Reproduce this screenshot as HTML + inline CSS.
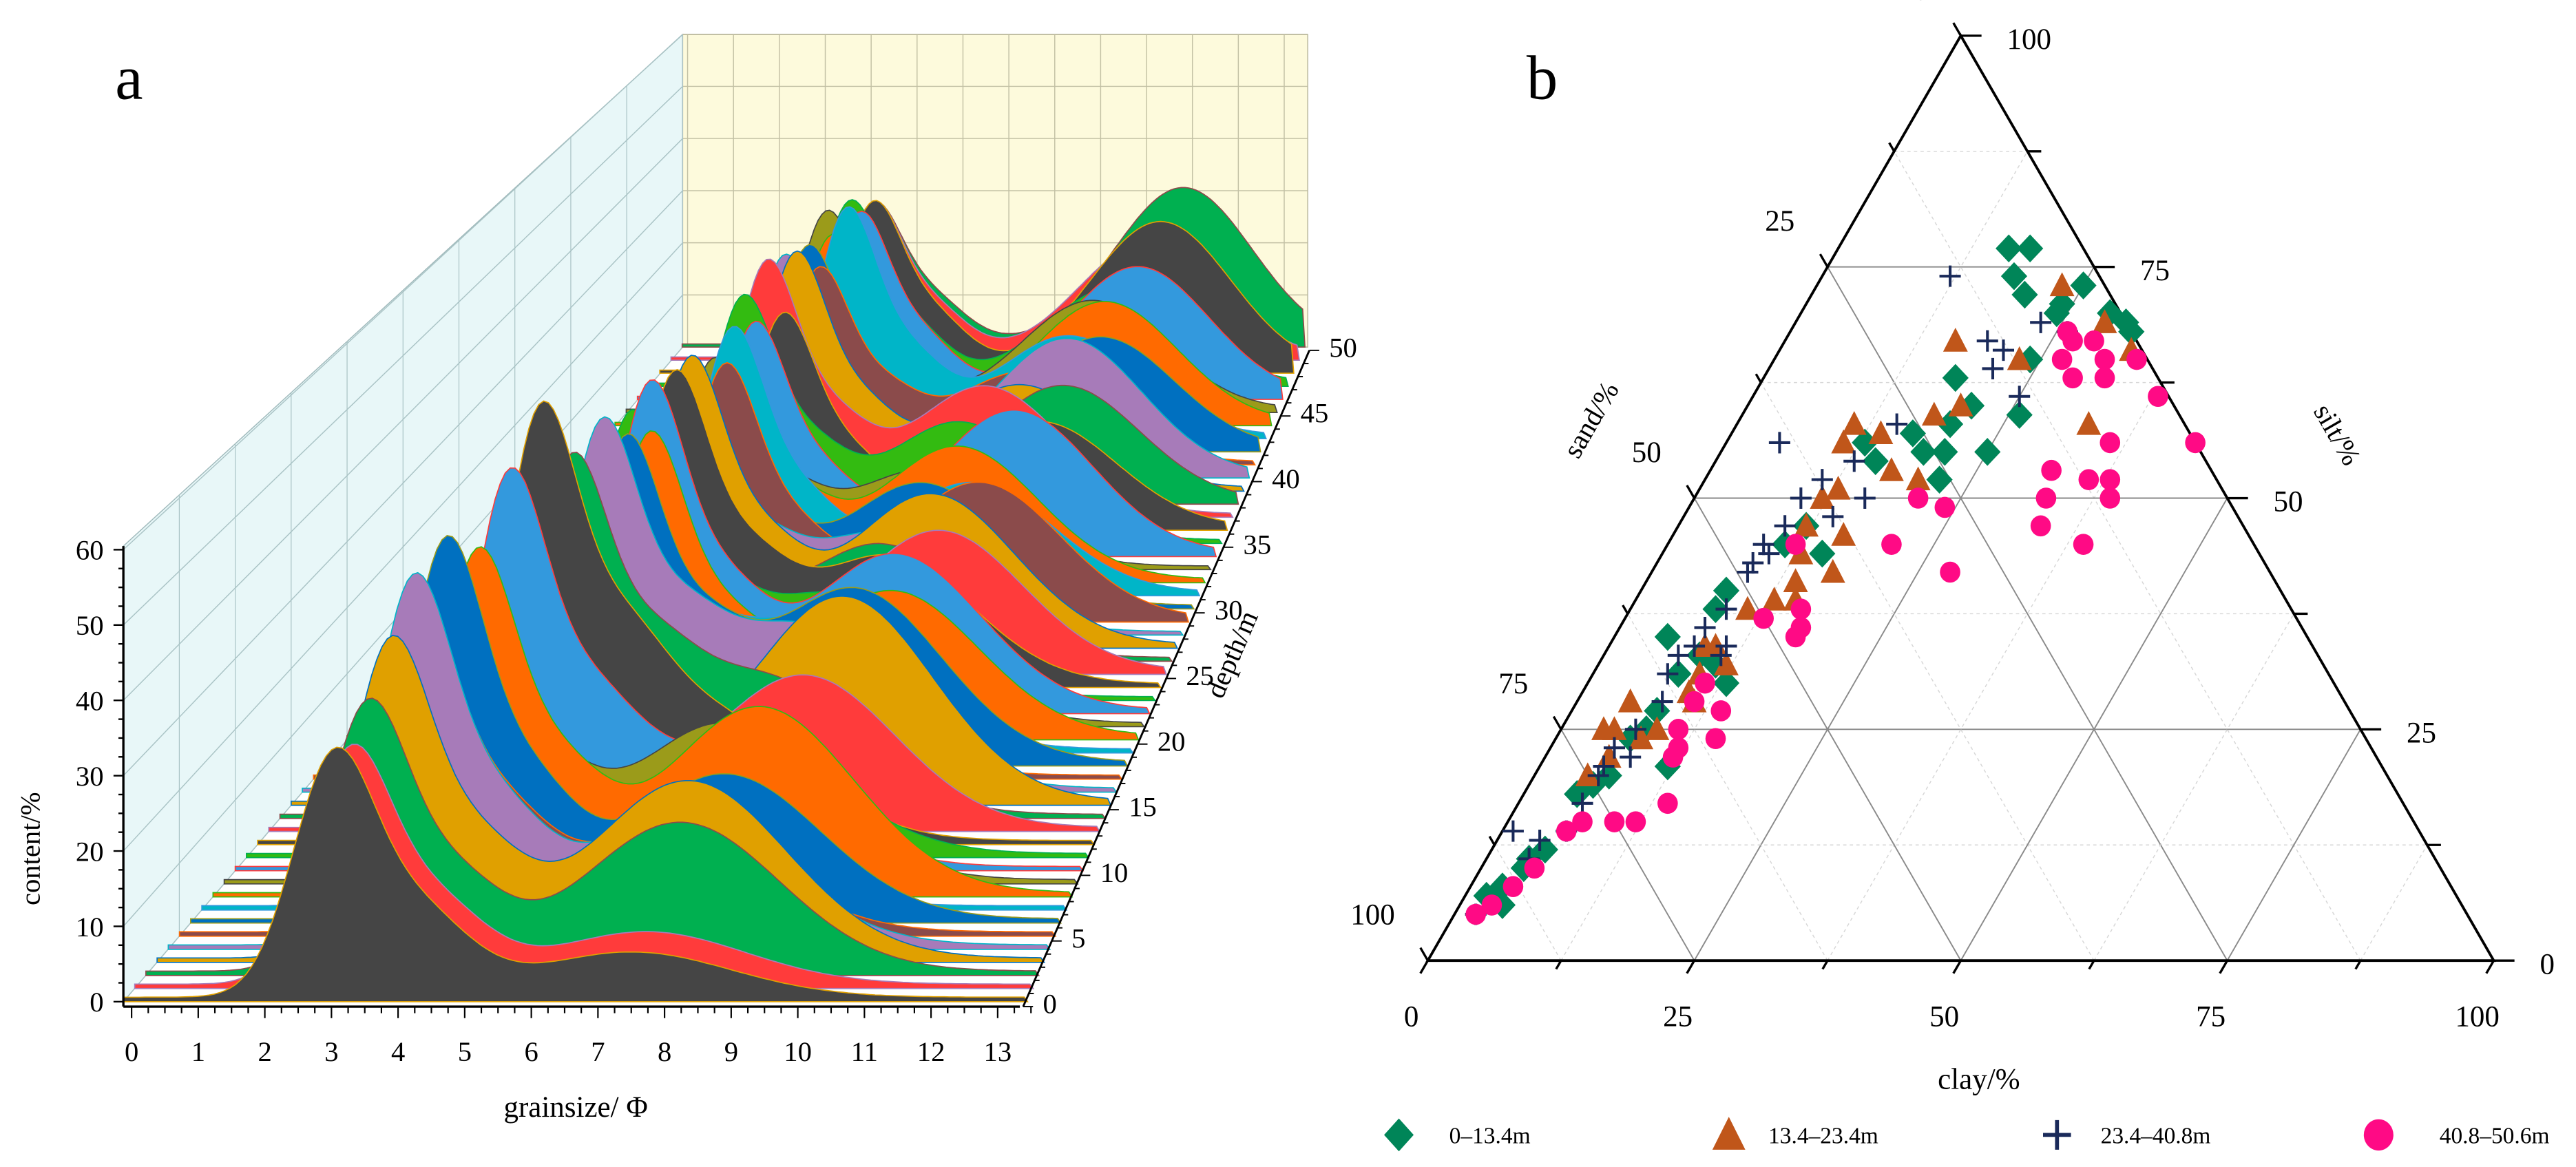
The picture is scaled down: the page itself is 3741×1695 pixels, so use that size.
<!DOCTYPE html>
<html><head><meta charset="utf-8"><style>
html,body{margin:0;padding:0;background:#fff;}
svg{display:block;font-family:"Liberation Serif",serif;}
</style></head><body>
<svg id="fig" xmlns="http://www.w3.org/2000/svg" width="3741" height="1695" viewBox="0 0 1566 709.5">
<rect x="0" y="0" width="1566" height="709.5" fill="#fff"/>
<g id="panelA">
  <polygon points="75,609 75,332 415,21 415,211" fill="#e8f7f8" stroke="#9fb9bb" stroke-width="0.6"/>
  <rect x="415" y="21" width="380" height="190" fill="#fdfadc" stroke="#b5b39a" stroke-width="0.6"/>
  <g id="wallGrid"></g>
  <g id="slices"></g>
  <g id="axesA"></g>
  <text x="70" y="60" font-size="38">a</text>
  <text transform="translate(24,516) rotate(-90)" font-size="17" text-anchor="middle">content/%</text>
  <text x="350" y="679" font-size="18" text-anchor="middle">grainsize/ Φ</text>
  <text transform="translate(754,400) rotate(-66.7)" font-size="17" text-anchor="middle">depth/m</text>
</g>
<g id="panelB">
  <g id="ternGrid"></g>
  <polygon points="868,584 1516,584 1192,21.7" fill="none" stroke="#000" stroke-width="1.6"/>
  <g id="ternTicks"></g>
  <g id="points"></g>
  <text x="928" y="60" font-size="38">b</text>
  <text transform="translate(972,258) rotate(-60)" font-size="17" text-anchor="middle">sand/%</text>
  <text transform="translate(1416,267) rotate(60)" font-size="17" text-anchor="middle">silt/%</text>
  <text x="1203" y="662" font-size="18" text-anchor="middle">clay/%</text>
  <g>
    <g>
      <path d="M850.4,680 L859.4,690 L850.4,700 L841.4,690 Z" fill="#008558"/>
      <text x="881" y="695" font-size="14">0–13.4m</text>
    </g>
    <g>
      <path d="M1051,679 L1061,699 L1041,699 Z" fill="#c0561a"/>
      <text x="1075" y="695" font-size="14">13.4–23.4m</text>
    </g>
    <g>
      <path d="M1242,690 H1259 M1250.5,681 V699" stroke="#1a2a5a" stroke-width="2.4"/>
      <text x="1277" y="695" font-size="14">23.4–40.8m</text>
    </g>
    <g>
      <ellipse cx="1446" cy="690" rx="9" ry="9.5" fill="#ff0a85"/>
      <text x="1483" y="695" font-size="14">40.8–50.6m</text>
    </g>
  </g>
</g>
</svg>
<script>
// ---------- Panel a data ----------
const depths = [0,1,2,3,4,5,6,7,8,9,10,11,12,13,14,15,16,17,18,19,20,21,22,23,24,25,26,27,28,29,30,31,32,33,34,35,36,37,38,39,40,41,42,43,44,45,46,47,48,49,50];
const peak1Pos = [3.0,3.1,3.2,3.4,3.6,3.5,3.8,3.3,4.0,3.6,4.2,3.9,4.4,4.0,4.6,4.2,4.8,4.3,4.9,4.5,5.0,4.4,4.7,4.2,4.8,4.5,4.0,4.6,4.3,4.9,4.1,4.7,4.4,4.0,4.6,4.2,4.8,4.3,4.0,4.5,4.1,4.6,4.2,4.8,4.3,4.0,4.5,4.1,4.4,4.2,4.0];
const peak1Height = [29,28,32,38,44,40,46,35,42,38,48,40,52,36,44,40,46,38,42,36,40,34,44,38,42,38,34,40,32,36,34,38,32,30,34,36,32,38,32,36,34,30,32,36,30,32,30,30,28,26,24];
const peak2Pos = [7.5,7.6,8.0,8.0,7.8,7.5,8.2,7.0,8.5,7.8,7.5,8.0,7.2,8.6,7.8,9.0,8.2,7.5,8.8,8.0,9.2,8.4,9.0,7.8,8.6,9.4,8.2,9.0,8.0,9.6,8.4,9.2,8.8,8.0,9.6,8.4,9.8,8.6,10.0,9.0,9.8,8.8,10.2,9.4,10.0,9.6,10.4,9.8,10.6,10.2,10.8];
const peak2Height = [6,7,20,24,18,14,20,12,26,22,16,14,18,22,20,30,24,18,26,20,22,18,24,16,20,22,18,24,16,22,20,18,22,16,24,20,18,22,20,18,24,16,20,18,22,20,24,18,28,22,30];
const contentTicks = [0,10,20,30,40,50,60];
const grainTicks = [0,1,2,3,4,5,6,7,8,9,10,11,12,13];
const depthTicks = [0,5,10,15,20,25,30,35,40,45,50];
const palette = ['#454545','#ff3b3b','#00b050','#e0a000','#a77bb9','#8b4b4b','#0070c0','#00b5c8','#ff6a00','#9b9b1a','#3399dd','#33bb11'];

const NS = 'http://www.w3.org/2000/svg';
function mk(tag, attrs, parent){ const e=document.createElementNS(NS,tag); for(const k in attrs) e.setAttribute(k,attrs[k]); parent.appendChild(e); return e; }

function proj(g,d,v){
  const t=d/50;
  const xf=80+g*40.5, xb=418+g*27.9;
  const x=xf+(xb-xf)*t;
  const y0=609+(211-609)*t;
  const s=4.58+(3.17-4.58)*t;
  return [x, y0-v*s];
}
const wg=document.getElementById('wallGrid');
contentTicks.forEach(v=>{
  const a=[75,609-v*4.58], b=[415,211-v*3.17];
  const l=mk('line',{x1:a[0],y1:a[1],x2:b[0],y2:b[1],stroke:'#a9c3c5','stroke-width':0.6},wg);
  
  
  const h=mk('line',{x1:415,y1:211-v*3.17,x2:795,y2:211-v*3.17,stroke:'#c2c0a4','stroke-width':0.6},wg);
  
  
});
depthTicks.forEach(d=>{
  const t=d/50, x=75+340*t;
  const yb=609-398*t, yt=332-311*t;
  const l=mk('line',{x1:x,y1:yb,x2:x,y2:yt,stroke:'#a9c3c5','stroke-width':0.5},wg);
  
  
});
for(let g=0; g<=13.5; g+=1){
  const x=418+g*27.9;
  const l=mk('line',{x1:x,y1:21,x2:x,y2:211,stroke:'#c2c0a4','stroke-width':0.6},wg);
  
  
}
const sg=document.getElementById('slices');
for(let i=depths.length-1;i>=0;i--){
  const d=depths[i], p1=peak1Pos[i], h1=peak1Height[i], p2=peak2Pos[i], h2=peak2Height[i];
  let pts=[];
  const b0=proj(-0.12,d,0); pts.push(b0);
  for(let g=-0.12; g<=13.45; g+=0.08){
    const v=h1*Math.exp(-Math.pow((g-p1)/0.6,2)/2)+0.4*h1*Math.exp(-Math.pow((g-p1-1.2)/0.8,2)/2)+h2*Math.exp(-Math.pow((g-p2)/1.5,2)/2)+0.6;
    pts.push(proj(g,d,v));
  }
  pts.push(proj(13.45,d,0));
  const col=palette[i%palette.length];
  const p=mk('polygon',{points:pts.map(q=>q[0].toFixed(1)+','+q[1].toFixed(1)).join(' '),fill:col,stroke:palette[(i+3)%palette.length],'stroke-width':0.7},sg);
  
  
}
const ax=document.getElementById('axesA');
let ln=mk('line',{x1:75,y1:332,x2:75,y2:612,stroke:'#000','stroke-width':1.4},ax);


for(let v=0;v<=60;v+=2.5){
  const y=609-v*4.58, len=(v%10===0)?6:3;
  const t=mk('line',{x1:75-len,y1:y,x2:75,y2:y,stroke:'#000','stroke-width':1},ax);
  
  
}
contentTicks.forEach(v=>{
  const t=mk('text',{x:63,y:609-v*4.58+6,'font-size':17,'text-anchor':'end'},ax);
  t.textContent=v;
  
  
});
ln=mk('line',{x1:75,y1:612,x2:620,y2:612,stroke:'#000','stroke-width':1.4},ax);


for(let g=0; g<=13.5; g+=0.25){
  const x=80+g*40.5, len=(Math.abs(g-Math.round(g))<0.01)?7:4;
  const t=mk('line',{x1:x,y1:612,x2:x,y2:612+len,stroke:'#000','stroke-width':0.9},ax);
  
  
}
grainTicks.forEach(g=>{
  const t=mk('text',{x:80+g*40.5,y:645,'font-size':17,'text-anchor':'middle'},ax);
  t.textContent=g;
  
  
});
ln=mk('line',{x1:622,y1:612,x2:796,y2:213,stroke:'#000','stroke-width':1.2},ax);


for(let d=0; d<=50; d+=1){
  const t=d/50, x=622+174*t, y=612-399*t, len=(d%5===0)?6:3;
  const tk=mk('line',{x1:x,y1:y,x2:x+len,y2:y,stroke:'#000','stroke-width':0.8},ax);
  
  
}
depthTicks.forEach(d=>{
  const t=d/50;
  const e=mk('text',{x:634+174*t,y:616-399*t,'font-size':17},ax);
  e.textContent=d;
  
  
});

// ---------- Panel b data ----------
const clay0 = [16,18,18,20,25,24,24,29,31,32,24,18,21,26,20,17,19,21,13,15,25,22,12,11,15,8,8,5,8,9,11,13,8,8,7,12,7,6,5,5,4,4,3,4,2];
const silt0 = [77,77,74,72,73,70,71,70,69,68,65,63,60,59,58,57,55,55,56,54,55,52,47,45,44,40,38,35,31,33,32,30,27,25,24,21,20,19,18,12,11,10,8,6,7];
const clay1 = [16,23,29,33,23,18,33,20,14,17,20,11,13,12,12,16,17,14,15,13,11,10,10,10,11,9,8,5,6,5,9,12,5,4,13,11];
const silt1 = [67,73,69,66,65,59,58,60,57,53,52,56,51,50,47,46,42,41,39,39,38,34,31,29,28,25,24,25,22,20,34,32,28,25,44,58];
const clay2 = [12,19,21,21,23,26,25,15,5,13,11,10,10,9,10,9,9,9,8,8,7,7,8,7,6,6,6,6,6,1,4,2,4,16,14,11,11,8];
const silt2 = [74,67,66,64,69,68,61,58,56,54,52,50,47,45,44,43,42,38,36,34,33,31,28,25,23,21,20,17,14,14,11,5,13,50,48,33,34,22];
const clay3 = [26,27,29,27,31,34,29,32,38,44,36,32,36,33,38,34,39,39,24,21,21,28,12,13,16,17,17,11,11,14,15,11,12,12,14,12,10,7,6,5,4,3,2];
const silt3 = [68,67,67,65,65,65,63,63,61,56,56,53,52,50,52,47,50,45,49,50,45,42,45,37,38,36,35,30,28,27,24,25,23,22,17,15,15,15,14,10,8,6,5];
const ternTicks = [0,25,50,75,100];

function tern(c,s){ const sa=100-c-s; return [(868*sa+1516*c+1192*s)/100,(584*sa+584*c+21.7*s)/100]; }
const tg=document.getElementById('ternGrid');
for(let k=12.5;k<100;k+=12.5){
  const major=(k%25===0);
  const st={stroke:major?'#8a8a8a':'#d6d6d6','stroke-width':major?0.8:0.6};
  if(!major) st['stroke-dasharray']='2,2';
  const segs=[[tern(0,k),tern(100-k,k),'silt'],[tern(k,0),tern(k,100-k),'clay'],[tern(100-k,0),tern(0,100-k),'sand']];
  segs.forEach(s=>{
    const l=mk('line',Object.assign({x1:s[0][0],y1:s[0][1],x2:s[1][0],y2:s[1][1]},st),tg);
    
    
  });
}
const tt=document.getElementById('ternTicks');
for(let k=0;k<=100;k+=12.5){
  const len=(k%25===0)?9:6;
  let a=tern(k,0);
  let l=mk('line',{x1:a[0],y1:a[1],x2:a[0]-0.5*len,y2:a[1]+0.866*len,stroke:'#000','stroke-width':1.4},tt);
  
  
  a=tern(100-k,k);
  l=mk('line',{x1:a[0],y1:a[1],x2:a[0]+len*1.4,y2:a[1],stroke:'#000','stroke-width':1.4},tt);
  
  
  a=tern(0,100-k);
  l=mk('line',{x1:a[0],y1:a[1],x2:a[0]-0.5*len,y2:a[1]-0.866*len,stroke:'#000','stroke-width':1.4},tt);
  
  
}
ternTicks.forEach(k=>{
  let a=tern(k,0);
  let t=mk('text',{x:a[0]-10,y:a[1]+40,'font-size':18,'text-anchor':'middle'},tt);
  t.textContent=k;
  
  
  a=tern(100-k,k);
  t=mk('text',{x:a[0]+28,y:a[1]+8,'font-size':18},tt);
  t.textContent=k;
  
  
  a=tern(0,100-k);
  t=mk('text',{x:a[0]-20,y:a[1]-22,'font-size':18,'text-anchor':'end'},tt);
  t.textContent=k;
  
  
});
const pg=document.getElementById('points');
clay0.forEach((c,i)=>{ const p=tern(c,silt0[i]);
  const e=mk('path',{d:`M${p[0]},${p[1]-8.5} L${p[0]+8},${p[1]} L${p[0]},${p[1]+8.5} L${p[0]-8},${p[1]} Z`,fill:'#008558'},pg);
  
  
});
clay1.forEach((c,i)=>{ const p=tern(c,silt1[i]);
  const e=mk('path',{d:`M${p[0]},${p[1]-8} L${p[0]+7.5},${p[1]+6.5} L${p[0]-7.5},${p[1]+6.5} Z`,fill:'#c0561a'},pg);
  
  
});
clay2.forEach((c,i)=>{ const p=tern(c,silt2[i]);
  const e=mk('path',{d:`M${p[0]-6.5},${p[1]} H${p[0]+6.5} M${p[0]},${p[1]-6.5} V${p[1]+6.5}`,stroke:'#1a2a5a','stroke-width':1.7,fill:'none'},pg);
  
  
});
clay3.forEach((c,i)=>{ const p=tern(c,silt3[i]);
  const e=mk('ellipse',{cx:p[0],cy:p[1],rx:6.2,ry:6.4,fill:'#ff0a85'},pg);
  
  
});
</script>
</body></html>
